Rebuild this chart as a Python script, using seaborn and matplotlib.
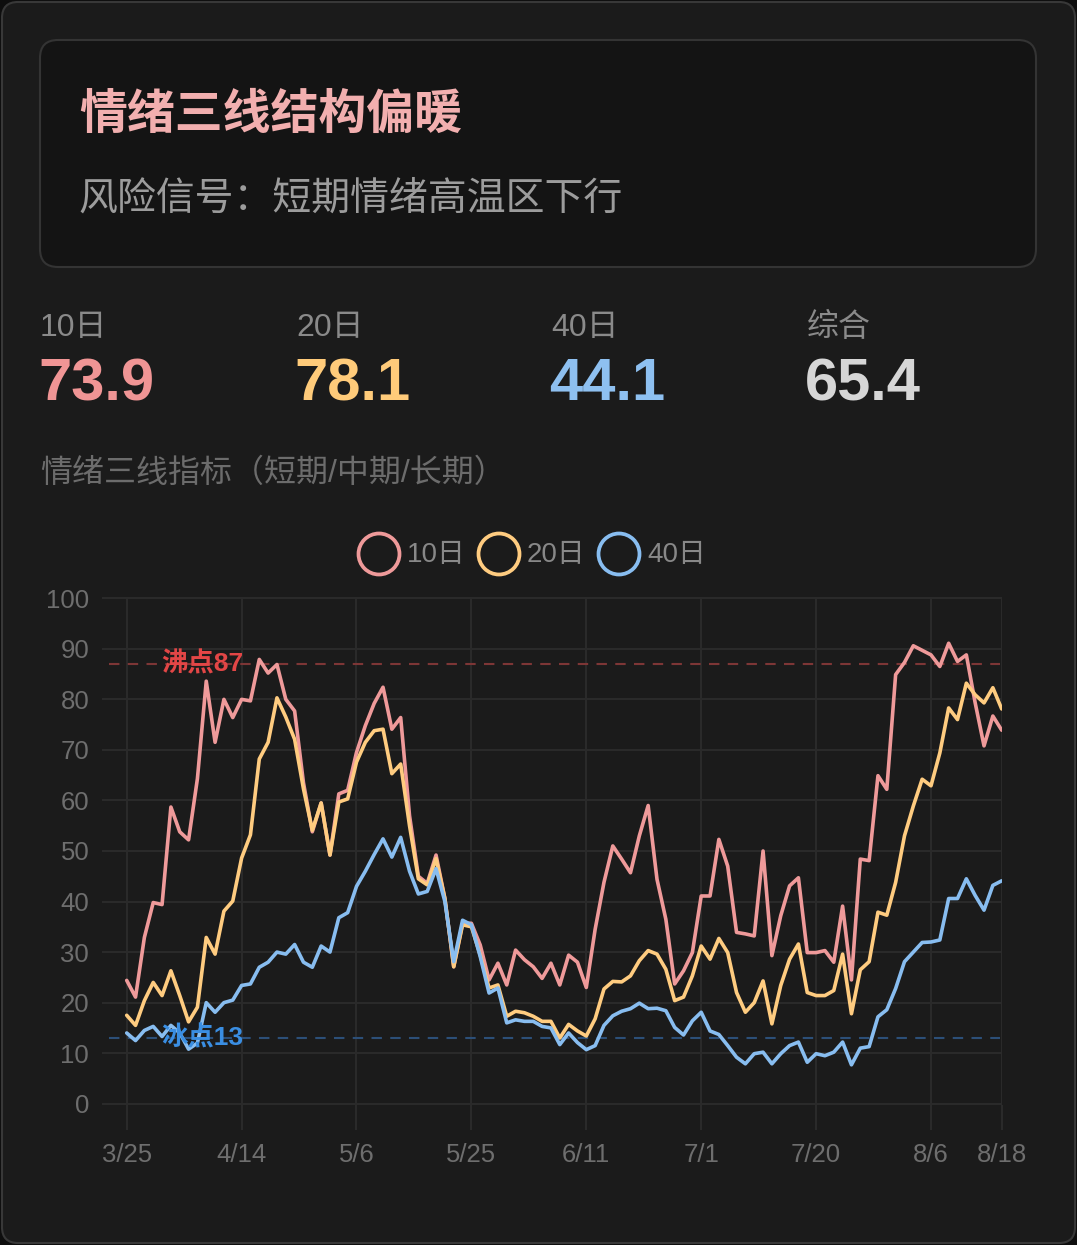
import numpy as np
import pandas as pd
import matplotlib
matplotlib.use("Agg")
import matplotlib.pyplot as plt
from matplotlib.patches import FancyBboxPatch, Circle
import seaborn as sns

W, H, DPI = 1077, 1245, 100

# ---------------- data ----------------
title = "情绪三线结构偏暖"
subtitle = "风险信号：短期情绪高温区下行"
stat_labels = ["10日", "20日", "40日", "综合"]
stat_values = ["73.9", "78.1", "44.1", "65.4"]
chart_title = "情绪三线指标（短期/中期/长期）"
series_names = ["10日", "20日", "40日"]
tick_labels = ["3/25", "4/14", "5/6", "5/25", "6/11", "7/1", "7/20", "8/6", "8/18"]
tick_index = [0, 13, 26, 39, 52, 65, 78, 91, 99]
y_ticks = [0, 10, 20, 30, 40, 50, 60, 70, 80, 90, 100]
boil_value, boil_label = 87, "沸点87"
freeze_value, freeze_label = 13, "冰点13"

d10 = [24.4, 21.1, 32.9, 39.8, 39.4, 58.7, 53.8, 52.2, 64.3, 83.6,
       71.5, 80.0, 76.4, 80.0, 79.7, 87.9, 85.2, 86.9, 80.0, 77.7,
       63.5, 53.8, 59.5, 49.2, 61.3, 62.0, 69.5, 74.8, 79.2, 82.4,
       74.1, 76.4, 57.0, 45.0, 43.6, 49.2, 40.6, 27.1, 35.7, 35.7,
       31.4, 24.5, 27.8, 23.5, 30.4, 28.5, 27.1, 24.8, 27.8, 23.5,
       29.4, 28.0, 23.0, 34.5, 43.8, 51.0, 48.4, 45.7, 53.0, 59.0,
       44.4, 36.5, 23.7, 26.3, 29.9, 41.1, 41.1, 52.3, 47.0, 33.9,
       33.6, 33.2, 50.0, 29.3, 37.2, 43.1, 44.7, 29.9, 29.9, 30.3,
       28.0, 39.1, 24.5, 48.4, 48.1, 64.9, 62.2, 84.9, 87.3, 90.6,
       89.7, 88.8, 86.5, 91.1, 87.5, 88.8, 79.3, 70.8, 76.7, 73.9]
d20 = [17.5, 15.5, 20.4, 24.0, 21.4, 26.3, 21.4, 16.2, 19.1, 32.9,
       29.6, 38.1, 40.1, 48.6, 53.2, 68.2, 71.5, 80.3, 76.5, 72.1,
       62.3, 54.1, 59.5, 49.2, 59.7, 60.3, 67.6, 71.5, 73.8, 74.1,
       65.3, 67.2, 55.0, 44.5, 43.3, 48.5, 40.6, 27.1, 35.4, 35.0,
       29.4, 22.9, 23.5, 17.3, 18.3, 18.0, 17.3, 16.3, 16.3, 13.0,
       15.7, 14.4, 13.4, 16.8, 22.7, 24.2, 24.1, 25.3, 28.3, 30.3,
       29.6, 26.6, 20.4, 21.1, 25.3, 31.2, 28.6, 32.7, 29.9, 22.0,
       18.1, 20.0, 24.3, 15.8, 23.4, 28.6, 31.6, 22.0, 21.4, 21.4,
       22.4, 29.6, 17.8, 26.5, 28.1, 37.9, 37.3, 43.8, 53.0, 58.9,
       64.2, 62.9, 69.4, 78.3, 76.0, 83.2, 80.9, 79.3, 82.3, 78.1]
d40 = [14.0, 12.5, 14.5, 15.3, 13.3, 15.5, 14.0, 10.8, 12.0, 20.0,
       18.1, 20.0, 20.5, 23.4, 23.7, 27.0, 28.0, 30.0, 29.6, 31.5,
       28.0, 27.0, 31.2, 30.0, 36.8, 37.8, 43.0, 46.0, 49.3, 52.4,
       48.8, 52.7, 46.0, 41.5, 42.0, 46.5, 40.0, 28.1, 36.3, 35.4,
       29.1, 21.9, 22.9, 16.0, 16.6, 16.3, 16.3, 15.3, 15.0, 11.7,
       14.0, 12.1, 10.7, 11.5, 15.5, 17.4, 18.3, 18.8, 19.9, 18.8,
       18.9, 18.4, 15.1, 13.6, 16.4, 18.1, 14.4, 13.7, 11.5, 9.2,
       7.9, 9.9, 10.2, 7.9, 9.9, 11.5, 12.2, 8.2, 9.9, 9.5,
       10.2, 12.2, 7.7, 11.0, 11.3, 17.2, 18.6, 22.8, 28.1, 30.0,
       31.9, 32.0, 32.4, 40.6, 40.6, 44.5, 41.2, 38.3, 43.2, 44.1]

colors = ["#ef9a9a", "#ffcc80", "#88bdf0"]
value_colors = ["#f09595", "#ffcb7a", "#8ec0f0", "#d6d6d6"]

# ---------------- style ----------------
sns.set_style("dark", {"axes.facecolor": "none", "figure.facecolor": "#0e0e0e"})
plt.rcParams["font.family"] = ["Liberation Sans", "Noto Sans CJK SC", "DejaVu Sans"]

fig = plt.figure(figsize=(W / DPI, H / DPI), dpi=DPI, facecolor="#0e0e0e")

# background / card layer in pixel coordinates
bg = fig.add_axes([0, 0, 1, 1])
bg.set_xlim(0, W)
bg.set_ylim(H, 0)
bg.axis("off")
bg.set_zorder(0)

bg.add_patch(FancyBboxPatch((2, 2), W - 4, H - 4,
                            boxstyle="round,pad=0,rounding_size=16",
                            fc="#1b1b1b", ec="#383838", lw=1.5))
bg.add_patch(FancyBboxPatch((40, 40), 996, 227,
                            boxstyle="round,pad=0,rounding_size=18",
                            fc="#141414", ec="#343434", lw=1.5))

bg.text(79, 116, title, fontsize=34.5, fontweight="bold", color="#f2afaf",
        ha="left", va="center")
bg.text(78, 199, subtitle, fontsize=28, color="#9c9c9c", ha="left", va="center")

stat_x = [40, 296, 551, 807]
for x, lab, val, c in zip(stat_x, stat_labels, stat_values, value_colors):
    bg.text(x, 328, lab, fontsize=23, color="#8a8a8a", ha="left", va="center")
    bg.text(x - 2, 385, val, fontsize=43, fontweight="bold", color=c,
            ha="left", va="center")

bg.text(40, 474, chart_title, fontsize=23, color="#6c6c6c", ha="left", va="center")

leg_x = [379, 499, 619]
for x, name, c in zip(leg_x, series_names, colors):
    bg.add_patch(Circle((x, 554), 20.5, fill=False, ec=c, lw=2.7))
    bg.text(x + 28, 555, name, fontsize=20, color="#888888", ha="left", va="center")

# ---------------- chart ----------------
left_px, right_px, top_px, bot_px = 101.7, 1001.7, 597, 1105
ax = fig.add_axes([left_px / W, (H - bot_px) / H,
                   (right_px - left_px) / W, (bot_px - top_px) / H])
ax.set_zorder(1)
ax.patch.set_alpha(0)

n = len(d10)
idx = list(range(n))
df = pd.DataFrame({
    "idx": idx * 3,
    "value": d10 + d20 + d40,
    "series": [series_names[0]] * n + [series_names[1]] * n + [series_names[2]] * n,
})

x_left = -(126.7 - left_px) / ((1001.7 - 126.7) / (n - 1))
ax.set_xlim(x_left, n - 1)
ax.set_ylim(-0.25, 100.25)

sns.lineplot(data=df, x="idx", y="value", hue="series",
             palette=dict(zip(series_names, colors)), hue_order=series_names,
             linewidth=2.6, legend=False, ax=ax, sort=False, zorder=3)
for line in ax.get_lines():
    line.set_solid_joinstyle("round")
    line.set_solid_capstyle("round")

# reference lines
ax.hlines(boil_value, -2.0, n - 1.2, colors="#7d3636", linestyles=(0, (5, 4)),
          lw=1.5, zorder=2)
ax.hlines(freeze_value, -2.0, n - 1.2, colors="#2c4f78", linestyles=(0, (5, 4)),
          lw=1.5, zorder=2)
ax.text(8.6, boil_value, boil_label, color="#e24646", fontsize=19,
        fontweight="bold", ha="center", va="center", zorder=5)
ax.text(8.6, freeze_value, freeze_label, color="#3a8ee2", fontsize=19,
        fontweight="bold", ha="center", va="center", zorder=5)

# axes styling
ax.set_xticks(tick_index)
ax.set_xticklabels(tick_labels)
ax.set_yticks(y_ticks)
ax.set_yticklabels([str(v) for v in y_ticks])
ax.grid(True, color="#2a2a2a", lw=1.5, zorder=0)
ax.set_axisbelow(True)
for s in ax.spines.values():
    s.set_visible(False)
ax.tick_params(axis="x", colors="#2a2a2a", length=18, width=1.5, direction="out",
               labelcolor="#6e6e6e", labelsize=18.5, pad=9.5, bottom=True)
ax.tick_params(axis="y", length=0, labelcolor="#6e6e6e", labelsize=18.5, pad=9,
               left=True)
ax.set_xlabel("")
ax.set_ylabel("")

fig.savefig("out.png", dpi=DPI, facecolor=fig.get_facecolor())
